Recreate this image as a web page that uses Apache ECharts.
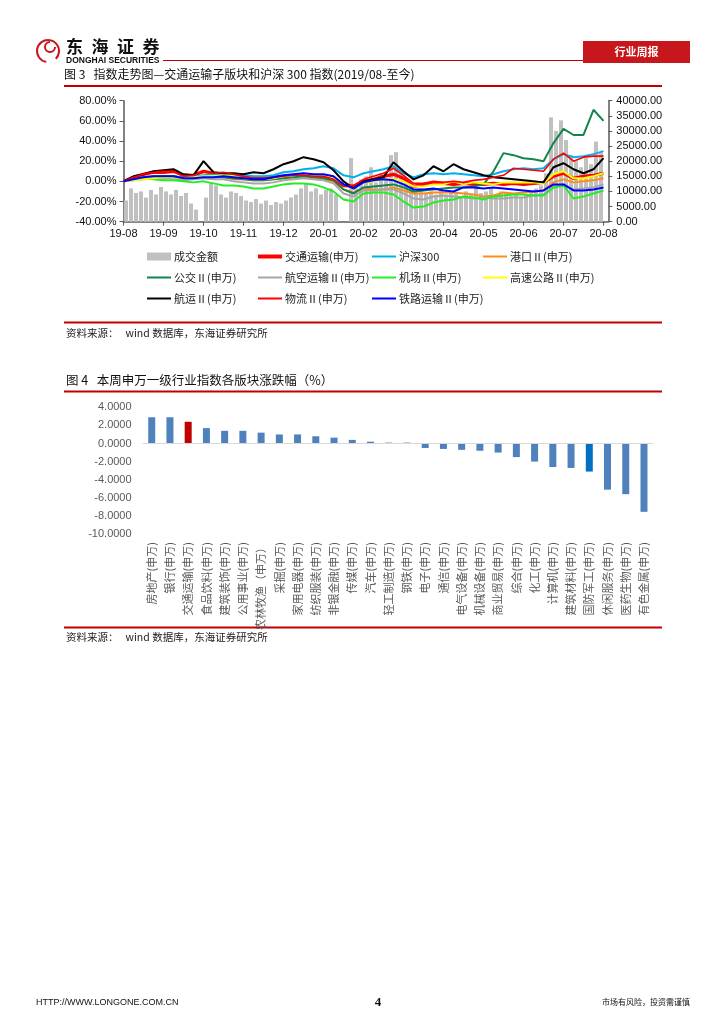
<!DOCTYPE html>
<html><head><meta charset="utf-8">
<script src="https://cdn.jsdelivr.net/npm/echarts@6/dist/echarts.min.js"></script>
<style>html,body{margin:0;padding:0;background:#fff}#c{width:724px;height:1024px}</style>
</head><body><div id="c"></div>
<script>
// ---------- Figure 3 data ----------
const monthLabels = ['19-08','19-09','19-10','19-11','19-12','20-01','20-02','20-03','20-04','20-05','20-06','20-07','20-08'];
const linePointsPerMonth = 4;
const barsPerMonth = 8;
// 成交金额 (right axis)
const volume = [
  7000,11000,9500,10000,8000,10500,9000,11500,
  10000,9000,10500,8500,9500,6000,4000,0,
  8000,13000,12000,9000,8000,10000,9500,8500,
  7000,6500,7500,6000,7000,5500,6500,6000,
  7000,8000,9000,11000,12500,10000,11000,9000,
  10500,11000,9000,0,0,21000,12000,14000,
  15000,18000,13000,16000,14000,22000,23000,16000,
  14000,12000,10000,11000,9500,10000,9000,10500,
  9000,10000,9500,8500,10000,9000,11000,9500,
  10000,11500,9000,10000,9500,8500,9000,8000,
  9000,10000,11000,12000,16000,34500,30000,33500,
  27000,22000,20000,18000,21000,19000,26500,23000
];
// index series (%), 4 points per month
const jtys = [0,4,7,9,9,10,6,6,10,8,7,6,5,4,3,4,5,6,7,6,5,3,-4,-5,0,2,5,7,3,-5,-3,-2,-2,-3,-2,-3,-3,-2,-3,-2,-3,-2,-1,5,8,3,5,6,8];
const hs300 = [0,2,3,4,5,5,4,5,6,7,7,6,6,5,5,6,9,10,12,13,15,13,6,4,8,10,12,15,8,4,7,8,7,8,7,6,5,7,10,12,13,12,13,22,27,24,25,27,30];
const gangkou = [0,2,3,4,5,5,3,3,4,4,4,2,2,1,1,2,3,4,4,3,2,0,-8,-11,-7,-8,-8,-6,-9,-12,-12,-11,-11,-11,-12,-13,-15,-14,-11,-12,-11,-10,-9,-1,2,-1,0,1,3];
const gongjiao = [0,2,4,5,5,5,3,3,4,4,4,3,2,1,1,2,3,4,5,4,3,1,-8,-12,-6,-5,-4,-3,-6,-10,-9,-8,-7,-6,-6,-5,-3,10,28,26,23,22,20,38,52,46,46,71,60];
const hangkong = [0,1,2,3,3,3,1,2,3,2,2,0,-1,-2,-2,-1,1,2,3,2,1,-2,-12,-15,-9,-9,-8,-8,-12,-17,-18,-15,-14,-15,-16,-17,-16,-17,-17,-16,-16,-14,-13,-5,-3,-8,-7,-6,-3];
const jichang = [0,2,3,2,1,1,0,-1,0,-2,-4,-4,-5,-7,-7,-5,-3,-2,-2,-3,-6,-10,-18,-20,-12,-11,-11,-13,-20,-26,-25,-21,-19,-18,-15,-16,-18,-15,-14,-13,-13,-14,-14,-6,-4,-17,-15,-12,-9];
const gaosu = [0,1,2,3,4,4,3,4,5,5,6,5,3,2,2,3,5,6,7,6,6,3,-4,-7,-1,0,2,2,0,-5,-5,-3,-3,0,-3,-1,-2,-3,-1,-1,-1,-1,-2,7,10,3,3,5,8];
const hangyun = [0,5,7,10,11,12,7,6,20,9,8,8,7,9,8,12,17,20,24,22,19,11,0,-7,0,2,4,19,10,2,6,15,10,17,12,9,6,4,3,2,1,0,-1,14,18,12,8,12,23];
const wuliu = [0,4,7,9,10,10,5,6,9,8,9,7,5,3,3,4,5,6,6,5,5,2,-5,-4,2,5,8,13,6,-2,-2,0,-1,0,-1,1,2,4,6,13,12,11,10,22,28,20,24,25,25];
const tielu = [0,2,4,5,5,5,3,3,4,4,5,4,3,2,2,4,6,7,8,7,7,5,-3,-7,-1,1,2,1,-3,-8,-8,-7,-9,-10,-6,-6,-7,-6,-7,-8,-9,-10,-9,-3,-3,-9,-9,-8,-6];

// ---------- Figure 4 data ----------
const industries = ['房地产(申万)','银行(申万)','交通运输(申万)','食品饮料(申万)','建筑装饰(申万)','公用事业(申万)','农林牧渔（申万）','采掘(申万)','家用电器(申万)','纺织服装(申万)','非银金融(申万)','传媒(申万)','汽车(申万)','轻工制造(申万)','钢铁(申万)','电子(申万)','通信(申万)','电气设备(申万)','机械设备(申万)','商业贸易(申万)','综合(申万)','化工(申万)','计算机(申万)','建筑材料(申万)','国防军工(申万)','休闲服务(申万)','医药生物(申万)','有色金属(申万)'];
const weeklyChange = [2.9,2.9,2.4,1.7,1.4,1.4,1.2,1.0,1.0,0.8,0.65,0.4,0.2,0.1,0.1,-0.5,-0.6,-0.7,-0.8,-1.0,-1.5,-2.0,-2.6,-2.7,-3.1,-5.1,-5.6,-7.55];

// ---------- build ----------
const lineDefs = [
  {name:'交通运输(申万)', data:jtys, color:'#ff0000', w:3.2, lh:4},
  {name:'沪深300', data:hs300, color:'#00b0f0', w:2, lh:2},
  {name:'港口Ⅱ(申万)', data:gangkou, color:'#ff8c1a', w:2, lh:2},
  {name:'公交Ⅱ(申万)', data:gongjiao, color:'#12864a', w:2, lh:2},
  {name:'航空运输Ⅱ(申万)', data:hangkong, color:'#a6a6a6', w:2, lh:2},
  {name:'机场Ⅱ(申万)', data:jichang, color:'#22ee22', w:2, lh:2},
  {name:'高速公路Ⅱ(申万)', data:gaosu, color:'#ffff00', w:2, lh:2},
  {name:'航运Ⅱ(申万)', data:hangyun, color:'#000000', w:2, lh:2},
  {name:'物流Ⅱ(申万)', data:wuliu, color:'#ff0000', w:1.6, lh:2},
  {name:'铁路运输Ⅱ(申万)', data:tielu, color:'#0000ff', w:2, lh:2}
];
const monthTicks = monthLabels.map((_, i) => i);
const CN = '"Noto Sans CJK SC", sans-serif';
const AR = '"Liberation Sans", Arial, sans-serif';

const series = [];
series.push({
  name:'成交金额', type:'bar', xAxisIndex:0, yAxisIndex:1, barWidth:4,
  itemStyle:{color:'#c0c0c0'}, silent:true, z:1,
  data: volume.map((v, j) => [(j + 0.5) / barsPerMonth, v])
});
lineDefs.forEach((d, k) => series.push({
  name:d.name, type:'line', xAxisIndex:0, yAxisIndex:0, showSymbol:false, symbol:'none',
  lineStyle:{color:d.color, width:d.w}, itemStyle:{color:d.color}, z:2 + k, silent:true,
  data: d.data.map((v, i) => [i / linePointsPerMonth, v])
}));
const barColors = weeklyChange.map((v, i) => industries[i] === '交通运输(申万)' ? '#c00000' : (industries[i] === '国防军工(申万)' ? '#0070c0' : '#4f81bd'));
series.push({
  type:'bar', xAxisIndex:1, yAxisIndex:2, barWidth:7, silent:true,
  data: weeklyChange.map((v, i) => ({value:v, itemStyle:{color:barColors[i]}})),
  markLine:{silent:true, symbol:'none', label:{show:false}, lineStyle:{color:'#d9d9d9', width:1, type:'solid'}, data:[{yAxis:0}]}
});

// legends
const legendCols = [147, 258, 372, 483];
const legendRows = [251, 272, 293];
const legendOrder = ['成交金额','交通运输(申万)','沪深300','港口Ⅱ(申万)','公交Ⅱ(申万)','航空运输Ⅱ(申万)','机场Ⅱ(申万)','高速公路Ⅱ(申万)','航运Ⅱ(申万)','物流Ⅱ(申万)','铁路运输Ⅱ(申万)'];
const legends = legendOrder.map((name, i) => {
  const def = lineDefs.find(d => d.name === name);
  return {
    data:[name], left:legendCols[i % 4], top:legendRows[Math.floor(i / 4)],
    icon:'rect', itemWidth:24, itemHeight: def ? def.lh : 8, selectedMode:false,
    textStyle:{fontFamily:CN, fontSize:11, color:'#222', padding:[0,0,0,-2]}, padding:0
  };
});

const red = '#c00000';
const graphic = [
  // logo
  {type:'arc', shape:{cx:48, cy:51, r:11, startAngle:Math.PI*0.55, endAngle:Math.PI*2.25}, style:{stroke:'#c8161d', lineWidth:2, fill:null}},
  {type:'arc', shape:{cx:50, cy:47, r:5, startAngle:0, endAngle:Math.PI*1.5}, style:{stroke:'#c8161d', lineWidth:2, fill:null}},
  {type:'text', left:66, top:38, style:{text:'东\u2002海\u2002证\u2002券', font:'bold 17px ' + CN, fill:'#111'}},
  {type:'text', left:66, top:56, style:{text:'DONGHAI SECURITIES', font:'bold 8.5px ' + AR, fill:'#111'}},
  {type:'line', shape:{x1:163, y1:60.5, x2:583, y2:60.5}, style:{stroke:red, lineWidth:1}},
  {type:'rect', shape:{x:583, y:41, width:107, height:22}, style:{fill:'#c8161d'}},
  {type:'text', x:636.5, y:52, style:{text:'行业周报', font:'bold 11px ' + CN, fill:'#fff', align:'center', verticalAlign:'middle'}},
  // figure 3
  {type:'text', left:64, top:68, style:{text:'图 3   指数走势图—交通运输子版块和沪深 300 指数(2019/08-至今)', font:'12px ' + CN, fill:'#111'}},
  {type:'line', shape:{x1:64, y1:86, x2:662, y2:86}, style:{stroke:red, lineWidth:2}},
  {type:'line', shape:{x1:64, y1:322.5, x2:662, y2:322.5}, style:{stroke:red, lineWidth:2}},
  {type:'text', left:66, top:328, style:{text:'资料来源：   wind 数据库，东海证券研究所', font:'10.5px ' + CN, fill:'#222'}},
  // figure 4
  {type:'text', left:66, top:374, style:{text:'图 4   本周申万一级行业指数各版块涨跌幅（%）', font:'12.5px ' + CN, fill:'#111'}},
  {type:'line', shape:{x1:64, y1:391.5, x2:662, y2:391.5}, style:{stroke:red, lineWidth:2}},
  {type:'line', shape:{x1:64, y1:627.5, x2:662, y2:627.5}, style:{stroke:red, lineWidth:2}},
  {type:'text', left:66, top:632, style:{text:'资料来源：   wind 数据库，东海证券研究所', font:'10.5px ' + CN, fill:'#222'}},
  // footer
  {type:'text', left:36, top:998, style:{text:'HTTP://WWW.LONGONE.COM.CN', font:'9px ' + AR, fill:'#111'}},
  {type:'text', x:378, y:1003, style:{text:'4', font:'bold 13px "Liberation Serif", serif', fill:'#111', align:'center', verticalAlign:'middle'}},
  {type:'text', right:34, top:998, style:{text:'市场有风险，投资需谨慎', font:'8px ' + CN, fill:'#111'}}
];

const axisGrey = '#595959';
const option = {
  animation:false,
  backgroundColor:'#fff',
  grid:[
    {left:123.5, top:100.7, width:484.8, height:121, containLabel:false},
    {left:142.6, top:407.3, width:510.5, height:126.7, containLabel:false}
  ],
  xAxis:[
    {type:'value', gridIndex:0, min:0, max:12.12, position:'bottom',
     axisLine:{onZero:false, lineStyle:{color:axisGrey, width:1.5}},
     axisTick:{show:true, length:4, customValues:monthTicks, lineStyle:{color:axisGrey}},
     axisLabel:{customValues:monthTicks, formatter:v => monthLabels[Math.round(v)] || '', fontFamily:AR, fontSize:11, color:'#111', margin:7},
     splitLine:{show:false}},
    {type:'category', gridIndex:1, data:industries, position:'bottom',
     axisLine:{show:false, onZero:false}, axisTick:{show:false},
     axisLabel:{interval:0, rotate:90, fontFamily:CN, fontSize:11, color:'#595959', margin:8},
     splitLine:{show:false}}
  ],
  yAxis:[
    {type:'value', gridIndex:0, min:-40, max:80, interval:20, position:'left',
     axisLine:{show:true, lineStyle:{color:axisGrey, width:1.5}},
     axisTick:{show:true, length:4, lineStyle:{color:axisGrey}},
     axisLabel:{formatter:v => v.toFixed(2) + '%', fontFamily:AR, fontSize:11, color:'#111', margin:7},
     splitLine:{show:false}},
    {type:'value', gridIndex:0, min:0, max:40000, interval:5000, position:'right',
     axisLine:{show:true, lineStyle:{color:axisGrey, width:1.5}},
     axisTick:{show:true, length:4, lineStyle:{color:axisGrey}},
     axisLabel:{formatter:v => v.toFixed(2), fontFamily:AR, fontSize:11, color:'#111', margin:8},
     splitLine:{show:false}},
    {type:'value', gridIndex:1, min:-10, max:4, interval:2,
     axisLine:{show:false}, axisTick:{show:false},
     axisLabel:{formatter:v => v.toFixed(4), fontFamily:AR, fontSize:11, color:'#595959', margin:11},
     splitLine:{show:false}}
  ],
  legend:legends,
  graphic:graphic,
  series:series
};
const chart = echarts.init(document.getElementById('c'), null, {renderer:'canvas'});
chart.setOption(option);
</script>
</body></html>
